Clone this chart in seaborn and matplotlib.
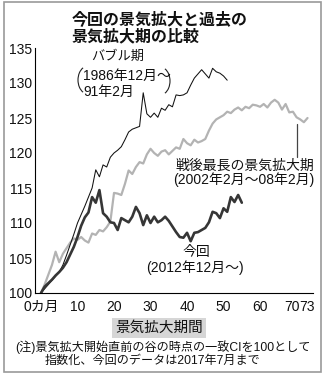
import matplotlib
matplotlib.use("Agg")
import matplotlib.pyplot as plt
from matplotlib.patches import Arc, Rectangle
import matplotlib.transforms as mtransforms
import seaborn as sns
import pandas as pd

# ---- data ----
bubble = [100.0, 100.6, 101.2, 101.8, 102.4, 103.0, 104.0, 105.4, 106.9, 108.4,
          110.0, 111.2, 112.4, 113.7, 115.0, 117.6, 116.6, 118.3, 118.0, 119.4,
          120.0, 120.4, 120.9, 121.9, 123.0, 123.4, 123.6, 123.8, 128.6, 125.6,
          125.1, 125.7, 125.1, 126.4, 126.1, 126.9, 126.6, 128.3, 128.2, 128.3,
          128.6, 129.7, 130.7, 131.3, 131.9, 131.3, 130.7, 132.1, 131.6, 131.4,
          131.0, 130.4]
postwar = [100.0, 101.2, 102.6, 104.0, 105.9, 104.4, 105.6, 106.4, 107.2, 107.8,
           107.6, 108.0, 107.5, 107.2, 108.5, 108.3, 109.0, 108.8, 109.4, 110.2,
           114.3, 114.2, 114.0, 115.6, 117.5, 117.0, 118.0, 118.7, 118.5, 119.8,
           120.6, 120.0, 119.6, 120.2, 120.4, 119.8, 120.3, 120.8, 120.6, 122.0,
           121.4, 121.1, 121.9, 121.5, 121.7, 122.0, 123.2, 124.2, 124.8, 125.1,
           125.4, 125.9, 125.7, 126.2, 126.5, 126.1, 126.6, 126.4, 126.9, 126.8,
           126.6, 127.0, 126.5, 127.2, 127.6, 127.2, 126.2, 127.0, 125.8, 125.9,
           125.1, 124.8, 124.4, 125.0]
current = [100.0, 100.9, 101.4, 101.9, 102.5, 103.0, 103.6, 104.4, 105.5, 106.6,
           108.0, 109.6, 110.8, 111.5, 113.7, 112.9, 114.7, 111.4, 110.9, 110.1,
           110.0, 109.0, 110.7, 110.4, 110.1, 110.9, 112.3, 111.4, 109.7, 111.1,
           110.0, 110.9, 110.1, 110.4, 110.9, 110.3, 109.5, 108.7, 108.0, 107.9,
           108.6, 107.4, 108.6, 108.7, 109.0, 109.3, 110.1, 111.6, 111.4, 110.7,
           112.1, 111.6, 113.7, 113.0, 114.0, 112.9]

xticks = [0, 10, 20, 30, 40, 50, 60, 70, 73]
xticklabels = ["0カ月", "10", "20", "30", "40", "50", "60", "70", "73"]
yticks = [100, 105, 110, 115, 120, 125, 130, 135]

title1 = "今回の景気拡大と過去の"
title2 = "景気拡大期の比較"
xlabel = "景気拡大期間"
note1 = "(注)景気拡大開始直前の谷の時点の一致CIを100として"
note2 = "指数化、今回のデータは2017年7月まで"

df_b = pd.DataFrame({"m": range(len(bubble)), "v": bubble})
df_p = pd.DataFrame({"m": range(len(postwar)), "v": postwar})
df_c = pd.DataFrame({"m": range(len(current)), "v": current})

sns.set_theme(style="white")
plt.rcParams["font.family"] = ["Liberation Sans", "Noto Sans CJK JP"]

W, H = 324, 373
fig = plt.figure(figsize=(W / 100, H / 100), dpi=100)
ax = fig.add_axes([35 / W, 1 - 293 / H, (313 - 35) / W, (293 - 48) / H])

sns.lineplot(data=df_p, x="m", y="v", ax=ax, color="#b3b3b3", linewidth=1.6)
sns.lineplot(data=df_b, x="m", y="v", ax=ax, color="#111111", linewidth=0.75)
sns.lineplot(data=df_c, x="m", y="v", ax=ax, color="#363636", linewidth=1.9)

ax.set_xlim(-1.64, 74.5)
ax.set_ylim(100, 135)
ax.set_xticks(xticks)
ax.set_xticklabels(xticklabels)
ax.set_yticks(yticks)
ax.set_xlabel("")
ax.set_ylabel("")
for s in ["top", "right"]:
    ax.spines[s].set_visible(False)
for s in ["left", "bottom"]:
    ax.spines[s].set_color("black")
    ax.spines[s].set_linewidth(0.8)
ax.tick_params(axis="both", direction="in", length=4, width=0.8, color="black",
               labelsize=10, labelcolor="#111111")
ax.tick_params(axis="x", pad=5)
ax.tick_params(axis="y", pad=2)

# squeeze the "70" / "73" labels together as in the reference
labs = ax.get_xticklabels()
labs[7].set_transform(labs[7].get_transform() + mtransforms.ScaledTranslation(-5 / 100, 0, fig.dpi_scale_trans))
labs[8].set_transform(labs[8].get_transform() + mtransforms.ScaledTranslation(-1 / 100, 0, fig.dpi_scale_trans))

# leader line for the postwar series
ax.plot([70, 70], [119.4, 124.1], color="#444444", linewidth=0.9)

def fx(x):
    return x / W

def fy(y):
    return 1 - y / H

cjk = ["Noto Sans CJK JP", "Liberation Sans"]
fig.text(fx(72), fy(19), title1, fontsize=11.5, fontweight="bold", family=cjk, va="center", ha="left", color="#111111")
fig.text(fx(72), fy(36), title2, fontsize=11.5, fontweight="bold", family=cjk, va="center", ha="left", color="#111111")

# annotations
fig.text(fx(118), fy(57), "バブル期", fontsize=9.5, va="center", ha="center", color="#111111")
fig.text(fx(83), fy(76), "1986年12月〜", fontsize=10, va="center", ha="left", color="#111111")
fig.text(fx(83), fy(92), "91年2月", fontsize=10, va="center", ha="left", color="#111111")
fig.add_artist(Arc((fx(88), fy(80)), width=20 / W, height=28 / H, theta1=115, theta2=245,
                   transform=fig.transFigure, color="#222222", linewidth=0.8))
fig.add_artist(Arc((fx(160), fy(81)), width=20 / W, height=28 / H, theta1=-65, theta2=65,
                   transform=fig.transFigure, color="#222222", linewidth=0.8))

fig.text(fx(314), fy(166), "戦後最長の景気拡大期", fontsize=10, va="center", ha="right", color="#111111")
fig.text(fx(314), fy(180), "(2002年2月〜08年2月)", fontsize=10, va="center", ha="right", color="#111111")

fig.text(fx(196), fy(252), "今回", fontsize=10, va="center", ha="center", color="#111111")
fig.text(fx(195), fy(268), "(2012年12月〜)", fontsize=10, va="center", ha="center", color="#111111")

# x label in grey box
fig.text(fx(159), fy(328), xlabel, fontsize=10.5, va="center", ha="center", color="#111111",
         bbox=dict(boxstyle="square,pad=0.2", facecolor="#d6d6d6", edgecolor="none"))

# note
fig.text(fx(15), fy(347), note1, fontsize=8.7, va="center", ha="left", color="#111111")
fig.text(fx(45), fy(361), note2, fontsize=8.7, va="center", ha="left", color="#111111")

# outer frame
fig.add_artist(Rectangle((fx(4), fy(372)), (321 - 4) / W, (372 - 2) / H, transform=fig.transFigure,
                         fill=False, edgecolor="#9a9a9a", linewidth=1.2))

fig.savefig("out.png", dpi=100)
